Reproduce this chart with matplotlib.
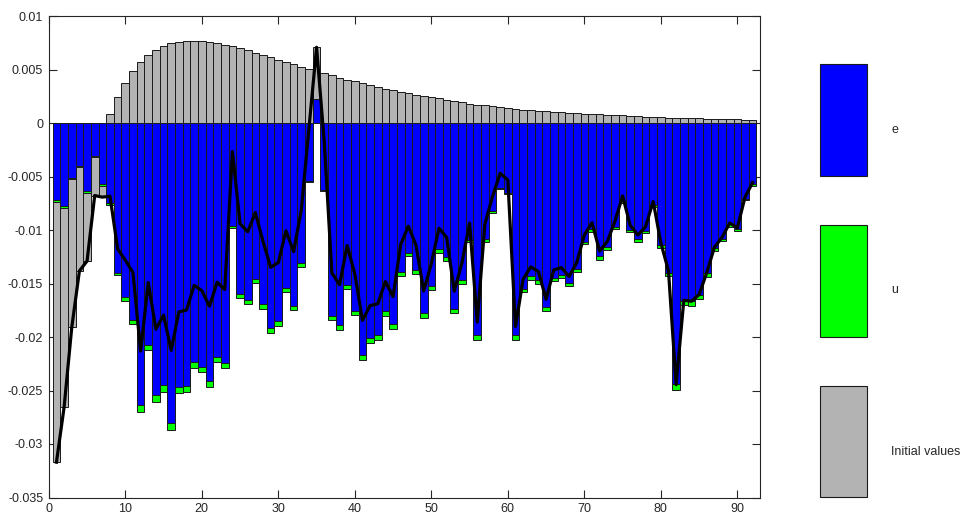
import numpy as np
import matplotlib
matplotlib.use("Agg")
import matplotlib.pyplot as plt
from matplotlib.patches import Rectangle

plt.rcParams['font.family'] = ['Liberation Sans', 'DejaVu Sans']

# Shock decomposition: contribution of each shock per period
periods = list(range(1, 93))

shock_e = [
    -0.00720, -0.00774, -0.00510, -0.00399, -0.00634, -0.00312, -0.00572, -0.00746,
    -0.01398, -0.01625, -0.01843, -0.02638, -0.02078, -0.02544, -0.02451, -0.02805,
    -0.02464, -0.02458, -0.02237, -0.02281, -0.02414, -0.02184, -0.02240, -0.00960,
    -0.01600, -0.01653, -0.01460, -0.01696, -0.01917, -0.01855, -0.01538, -0.01709,
    -0.01311, -0.00541, 0.00224, -0.00622, -0.01805, -0.01889, -0.01513, -0.01759,
    -0.02166, -0.02007, -0.01979, -0.01759, -0.01883, -0.01389, -0.01212, -0.01370,
    -0.01777, -0.01519, -0.01181, -0.01255, -0.01737, -0.01467, -0.01094, -0.01985,
    -0.01085, -0.00824, -0.00603, -0.00656, -0.01985, -0.01551, -0.01432, -0.01470,
    -0.01715, -0.01445, -0.01420, -0.01495, -0.01364, -0.01109, -0.00992, -0.01246,
    -0.01156, -0.00973, -0.00733, -0.00997, -0.01085, -0.01007, -0.00768, -0.01144,
    -0.01398, -0.02442, -0.01663, -0.01668, -0.01610, -0.01404, -0.01169, -0.01081,
    -0.00948, -0.00988, -0.00706, -0.00572,
]

shock_u = [
    -0.00015, -0.00019, -0.00015, -0.00014, -0.00016, -0.00005, -0.00019, -0.00022,
    -0.00025, -0.00034, -0.00040, -0.00062, -0.00047, -0.00063, -0.00063, -0.00066,
    -0.00062, -0.00058, -0.00050, -0.00049, -0.00056, -0.00050, -0.00050, -0.00025,
    -0.00040, -0.00043, -0.00035, -0.00044, -0.00047, -0.00043, -0.00037, -0.00043,
    -0.00031, -0.00015, 0.00000, -0.00015, -0.00040, -0.00047, -0.00038, -0.00040,
    -0.00052, -0.00053, -0.00047, -0.00043, -0.00046, -0.00037, -0.00028, -0.00037,
    -0.00044, -0.00038, -0.00031, -0.00031, -0.00040, -0.00033, -0.00022, -0.00047,
    -0.00024, -0.00018, -0.00012, -0.00012, -0.00047, -0.00033, -0.00031, -0.00030,
    -0.00041, -0.00031, -0.00031, -0.00033, -0.00031, -0.00025, -0.00024, -0.00031,
    -0.00028, -0.00021, -0.00019, -0.00025, -0.00024, -0.00022, -0.00021, -0.00027,
    -0.00034, -0.00053, -0.00040, -0.00041, -0.00037, -0.00035, -0.00030, -0.00025,
    -0.00021, -0.00025, -0.00018, -0.00015,
]

initial_values = [
    -0.02435, -0.01863, -0.01386, -0.00970, -0.00640, -0.00361, -0.00102, 0.00084,
    0.00245, 0.00378, 0.00485, 0.00568, 0.00634, 0.00680, 0.00718, 0.00746,
    0.00761, 0.00767, 0.00770, 0.00764, 0.00758, 0.00746, 0.00733, 0.00718,
    0.00699, 0.00680, 0.00658, 0.00634, 0.00615, 0.00593, 0.00568, 0.00550,
    0.00527, 0.00503, 0.00484, 0.00466, 0.00444, 0.00425, 0.00406, 0.00388,
    0.00373, 0.00354, 0.00336, 0.00320, 0.00306, 0.00292, 0.00276, 0.00264,
    0.00251, 0.00242, 0.00229, 0.00217, 0.00205, 0.00192, 0.00180, 0.00171,
    0.00164, 0.00155, 0.00145, 0.00136, 0.00130, 0.00124, 0.00118, 0.00112,
    0.00108, 0.00103, 0.00099, 0.00093, 0.00089, 0.00087, 0.00084, 0.00080,
    0.00077, 0.00075, 0.00071, 0.00065, 0.00062, 0.00059, 0.00056, 0.00052,
    0.00049, 0.00049, 0.00047, 0.00043, 0.00043, 0.00040, 0.00037, 0.00037,
    0.00034, 0.00034, 0.00031, 0.00031,
]

series_names = ['e', 'u', 'Initial values']
series_colors = ['#0000ff', '#00ff00', '#b3b3b3']
yticks = [0.01, 0.005, 0, -0.005, -0.01, -0.015, -0.02, -0.025, -0.03, -0.035]
ytick_labels = ['0.01', '0.005', '0', '-0.005', '-0.01', '-0.015', '-0.02',
                '-0.025', '-0.03', '-0.035']
xticks = [0, 10, 20, 30, 40, 50, 60, 70, 80, 90]

W, H = 963, 524
fig = plt.figure(figsize=(W / 100, H / 100), dpi=100)

def px_rect(x0, y0, x1, y1):
    return [x0 / W, 1 - y1 / H, (x1 - x0) / W, (y1 - y0) / H]

ax = fig.add_axes(px_rect(48.8, 16, 760.3, 497.5))

t = np.array(periods, dtype=float)
pos_base = np.zeros(len(t))
neg_base = np.zeros(len(t))
for vals, color in zip([shock_e, shock_u, initial_values], series_colors):
    v = np.array(vals, dtype=float)
    for mask, base in [(v > 0, pos_base), (v < 0, neg_base)]:
        ax.bar(t[mask], v[mask], bottom=base[mask], width=1.0, color=color,
               edgecolor='#1a1a1a', linewidth=0.7, zorder=2)
        base[mask] += v[mask]

total = np.array(shock_e) + np.array(shock_u) + np.array(initial_values)
ax.plot(t, total, color='black', linewidth=2.3, zorder=3)

ax.set_xlim(0, 93)
ax.set_ylim(-0.035, 0.01)
ax.set_xticks(xticks)
ax.set_yticks(yticks)
ax.set_yticklabels(ytick_labels)
ax.tick_params(direction='in', length=5.5, width=0.8, top=True, right=True,
               labelsize=9, colors='#262626', pad=4)
for s in ax.spines.values():
    s.set_color('#262626')
    s.set_linewidth(0.8)

# legend boxes, one per contribution
boxes = [(64, 176, 130), (225, 337, 290), (386, 497, 452)]
for (y0, y1, ylab), name, color in zip(boxes, series_names, series_colors):
    fig.patches.append(Rectangle((820 / W, 1 - y1 / H), 47 / W, (y1 - y0) / H,
                                 transform=fig.transFigure, facecolor=color,
                                 edgecolor='#1a1a1a', linewidth=0.8))
    fig.text(891 / W, 1 - ylab / H, name, fontsize=9, color='#262626',
             va='center', ha='left')

fig.savefig('out.png', dpi=100)
